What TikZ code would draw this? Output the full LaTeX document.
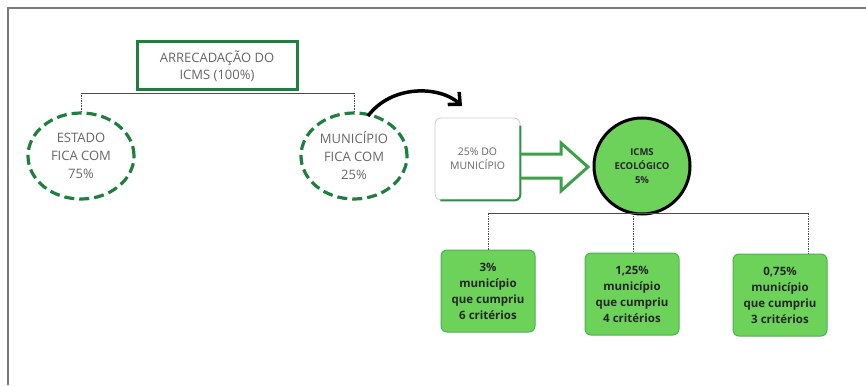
\documentclass[tikz,border=0pt]{standalone}
\usepackage{fontspec}
\setmainfont{Open Sans}
\usetikzlibrary{arrows.meta,shapes.geometric}
\definecolor{dgreen}{HTML}{1E7F3E}
\definecolor{lgreen}{HTML}{6CD25A}
\definecolor{txtgray}{HTML}{666666}
\definecolor{frame}{HTML}{7A7A7A}
\tikzset{
  topbox/.style={draw=dgreen, line width=3pt, fill=white, minimum width=160pt, minimum height=48pt, align=center, text=txtgray, font=\fontsize{13}{17}\selectfont},
  dashell/.style={draw=dgreen, line width=3.2pt, dash pattern=on 10pt off 5pt, ellipse, minimum width=106pt, minimum height=86pt, align=center, text=txtgray, font=\fontsize{13}{18}\selectfont, inner sep=0pt},
  greenbox/.style={draw=lgreen!60!dgreen, line width=1pt, fill=lgreen, rounded corners=6pt, minimum width=94pt, minimum height=82pt, align=center, text=black!85, font=\bfseries\fontsize{11.5}{16}\selectfont},
  conn/.style={draw=black!70, line width=0.8pt},
  connv/.style={draw=black!70, line width=0.8pt, dash pattern=on 1.5pt off 1pt},
}
\begin{document}
\begin{tikzpicture}[x=1pt,y=-1pt]
\useasboundingbox (0,0) rectangle (866,385);
% frame
\draw[frame, line width=2pt] (8,385) -- (8,8) -- (866,8);

% top box
\node[topbox] (top) at (217,66) {ARRECADAÇÃO DO\\ICMS (100\%)};
% ellipses
\node[dashell] (est) at (81,156) {ESTADO\\FICA COM\\75\%};
\node[dashell] (mun) at (354,156) {MUNICÍPIO\\FICA COM\\25\%};
\coordinate (j1) at (81,93);
\coordinate (j2) at (354,93);
\draw[conn] (j1) -- (j2);
\draw[connv] (j1) -- (est.north);
\draw[connv] (j2) -- (mun.north);

% curved arrow
\coordinate (ca) at (368,116);
\coordinate (cb) at (462,106);
\draw[line width=3.5pt, -{Straight Barb[length=9pt,width=17pt]}] (ca)
   .. controls (392,84) and (440,86) .. (cb);

% 25% do municipio box
\node[draw=black!20, line width=0.8pt, fill=white, rounded corners=6pt, minimum width=85pt, minimum height=82pt, align=center, text=txtgray, font=\fontsize{10.5}{14}\selectfont] (mbox) at (477.5,159) {25\% DO\\MUNICÍPIO};
\draw[dgreen!80!lgreen, line width=2pt, rounded corners=6pt] (mbox.north east) ++(0,8) -- (mbox.south east) -- ++(-80,0);

% hollow arrow
\draw[dgreen!60!lgreen, line width=3pt, line join=miter] (mbox.east |- 0,154) -- (561,154) -- (561,143) -- (588,167) -- (561,191) -- (561,178) -- (mbox.east |- 0,178);

% circle
\node[circle, draw=black, line width=3pt, fill=lgreen, minimum size=96pt, align=center, text=black!85, font=\bfseries\fontsize{9.5}{14}\selectfont, inner sep=0pt] (eco) at (642,166) {ICMS\\ECOLÓGICO\\5\%};

% bottom boxes
\node[greenbox] (b1) at (488,291) {3\%\\município\\que cumpriu\\6 critérios};
\node[greenbox] (b2) at (632,294) {1,25\%\\município\\que cumpriu\\4 critérios};
\node[greenbox] (b3) at (780,295) {0,75\%\\município\\que cumpriu\\3 critérios};

\coordinate (h1) at (488,213);
\coordinate (h2) at (633,213);
\coordinate (h3) at (808,213);
\draw[conn] (h1) -- (h3);
\draw[connv] (h1) -- (b1.north);
\draw[connv] (h2) -- (h2 |- b2.north);
\draw[connv] (h3) -- (h3 |- b3.north);
\end{tikzpicture}
\end{document}
